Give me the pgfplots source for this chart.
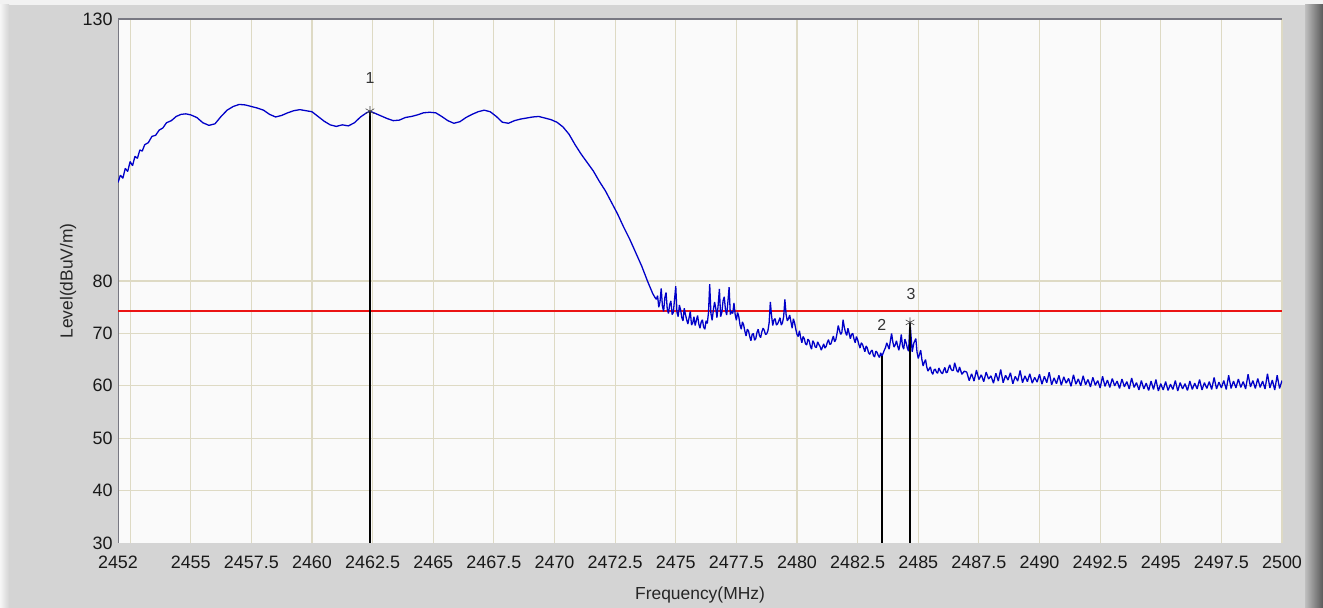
\documentclass[border=0pt]{standalone}
\usepackage{pgfplots}
\pgfplotsset{compat=1.18}
\usepackage{pgfplotstable}
\usepackage{fontspec}
\setmainfont{Liberation Sans}
\definecolor{bggray}{RGB}{212,212,212}
\definecolor{plotbg}{RGB}{250,250,250}
\definecolor{gridc}{RGB}{222,218,196}
\definecolor{trace}{RGB}{0,0,200}
\definecolor{limitred}{RGB}{235,20,20}
\definecolor{axisc}{RGB}{120,120,130}

\pgfplotstableread{
f L
2452.00 98.8
2452.10 100.2
2452.20 99.6
2452.30 101.5
2452.40 100.9
2452.50 102.8
2452.60 102.0
2452.70 103.8
2452.80 103.4
2452.90 105.0
2453.00 104.8
2453.10 106.0
2453.25 106.4
2453.40 107.6
2453.55 107.8
2453.70 108.8
2453.85 109.2
2454.00 110.2
2454.20 110.6
2454.40 111.4
2454.60 111.8
2454.80 111.9
2455.00 111.7
2455.25 111.2
2455.50 110.2
2455.75 109.7
2456.00 110.0
2456.25 111.4
2456.50 112.6
2456.75 113.3
2457.00 113.7
2457.25 113.6
2457.50 113.3
2457.75 113.0
2458.00 112.6
2458.25 111.8
2458.50 111.3
2458.75 111.6
2459.00 112.1
2459.25 112.5
2459.50 112.7
2459.75 112.5
2460.00 112.3
2460.25 111.4
2460.50 110.5
2460.75 109.8
2461.00 109.5
2461.25 109.8
2461.50 109.6
2461.75 110.2
2462.00 111.3
2462.25 112.1
2462.39 112.4
2462.60 112.0
2462.85 111.5
2463.10 111.0
2463.35 110.6
2463.60 110.7
2463.85 111.2
2464.10 111.4
2464.35 111.7
2464.60 112.1
2464.85 112.2
2465.10 112.1
2465.35 111.4
2465.60 110.6
2465.85 110.1
2466.10 110.4
2466.35 111.2
2466.60 111.8
2466.85 112.3
2467.10 112.6
2467.35 112.3
2467.60 111.4
2467.85 110.3
2468.10 110.1
2468.35 110.6
2468.60 110.9
2468.85 111.1
2469.10 111.3
2469.35 111.4
2469.60 111.1
2469.85 110.8
2470.10 110.3
2470.35 109.4
2470.60 108.0
2470.85 106.0
2471.10 104.2
2471.35 102.6
2471.60 101.0
2471.85 99.0
2472.10 97.2
2472.35 95.0
2472.60 92.8
2472.85 90.3
2473.10 88.0
2473.35 85.4
2473.60 82.8
2473.85 79.8
2474.05 77.6
2474.15 76.8
2474.20 76.5
2474.25 77.2
2474.30 75.0
2474.35 76.0
2474.40 78.6
2474.45 75.2
2474.50 74.2
2474.55 76.8
2474.60 77.8
2474.65 74.6
2474.70 73.8
2474.75 75.5
2474.80 76.2
2474.85 73.6
2474.90 74.0
2474.95 76.5
2475.00 79.0
2475.05 74.0
2475.10 73.2
2475.15 75.4
2475.20 74.5
2475.25 73.0
2475.30 72.4
2475.35 74.8
2475.40 73.6
2475.45 72.6
2475.50 71.8
2475.55 73.0
2475.60 74.2
2475.65 71.6
2475.70 72.0
2475.75 73.2
2475.80 71.5
2475.85 72.5
2475.90 73.4
2475.95 71.8
2476.00 71.0
2476.05 72.2
2476.10 72.6
2476.15 71.2
2476.20 70.8
2476.25 72.4
2476.30 71.9
2476.35 74.0
2476.40 79.4
2476.45 73.8
2476.50 72.5
2476.55 74.4
2476.60 76.0
2476.65 74.8
2476.70 73.0
2476.75 75.5
2476.80 78.5
2476.85 73.2
2476.90 74.0
2476.95 76.2
2477.00 77.0
2477.05 74.5
2477.10 73.5
2477.15 76.0
2477.20 78.8
2477.25 73.6
2477.30 74.2
2477.35 73.8
2477.40 75.8
2477.45 73.6
2477.50 72.5
2477.55 74.0
2477.60 73.2
2477.65 71.6
2477.70 70.8
2477.75 72.2
2477.80 71.6
2477.85 70.4
2477.90 69.5
2477.95 70.8
2478.00 70.5
2478.05 69.4
2478.10 68.6
2478.15 69.8
2478.20 70.0
2478.25 68.7
2478.30 69.0
2478.35 70.2
2478.40 70.8
2478.45 69.6
2478.50 69.2
2478.55 70.3
2478.60 71.0
2478.65 70.6
2478.70 69.8
2478.75 69.9
2478.80 70.5
2478.85 72.0
2478.90 76.0
2478.95 73.4
2479.00 71.5
2479.05 72.6
2479.10 72.8
2479.15 71.6
2479.20 71.8
2479.25 72.4
2479.30 73.0
2479.35 71.6
2479.40 72.0
2479.45 73.2
2479.50 76.5
2479.55 73.6
2479.60 72.4
2479.65 72.8
2479.70 73.5
2479.75 72.2
2479.80 71.0
2479.85 72.8
2479.90 72.0
2479.95 70.8
2480.00 69.8
2480.05 69.4
2480.10 70.5
2480.15 69.2
2480.20 68.2
2480.25 69.4
2480.30 69.0
2480.35 68.0
2480.40 67.8
2480.45 68.9
2480.50 68.6
2480.55 67.6
2480.60 67.0
2480.65 68.6
2480.70 68.2
2480.75 67.4
2480.80 67.3
2480.85 68.4
2480.90 67.9
2480.95 67.5
2481.00 66.8
2481.05 67.4
2481.10 68.0
2481.15 67.2
2481.20 67.5
2481.25 68.3
2481.30 68.8
2481.35 67.9
2481.40 68.0
2481.45 68.8
2481.50 69.5
2481.55 68.4
2481.60 68.8
2481.65 70.0
2481.70 71.5
2481.75 70.6
2481.80 69.8
2481.85 70.2
2481.90 72.6
2481.95 71.2
2482.00 70.2
2482.05 69.6
2482.10 71.0
2482.15 70.0
2482.20 69.0
2482.25 69.8
2482.30 70.0
2482.35 68.9
2482.40 68.2
2482.45 69.4
2482.50 68.8
2482.55 67.9
2482.60 67.2
2482.65 68.2
2482.70 67.9
2482.75 67.2
2482.80 66.5
2482.85 67.6
2482.90 67.2
2482.95 66.3
2483.00 66.0
2483.05 66.6
2483.10 66.8
2483.15 65.8
2483.20 65.5
2483.25 66.6
2483.30 66.4
2483.35 65.8
2483.40 65.4
2483.45 66.3
2483.50 65.6
2483.55 66.2
2483.60 66.8
2483.65 67.3
2483.70 68.2
2483.75 67.6
2483.80 67.0
2483.85 68.6
2483.90 70.0
2483.95 68.4
2484.00 67.4
2484.05 67.8
2484.10 68.6
2484.15 67.6
2484.20 66.8
2484.25 68.0
2484.30 69.8
2484.35 67.6
2484.40 67.0
2484.45 68.9
2484.50 68.2
2484.55 67.2
2484.60 66.6
2484.66 72.1
2484.75 66.5
2484.82 68.2
2484.90 69.0
2484.95 66.4
2485.00 65.2
2485.05 66.0
2485.10 66.8
2485.15 65.0
2485.20 63.8
2485.25 64.5
2485.30 65.0
2485.35 63.6
2485.40 62.8
2485.45 63.2
2485.50 63.6
2485.55 62.6
2485.60 62.2
2485.65 63.0
2485.70 63.2
2485.75 62.6
2485.80 62.4
2485.85 63.4
2485.90 62.9
2485.95 62.5
2486.00 62.3
2486.05 63.0
2486.10 63.5
2486.15 62.5
2486.20 62.6
2486.25 63.4
2486.30 64.0
2486.35 63.2
2486.40 62.9
2486.45 63.0
2486.50 64.4
2486.55 63.6
2486.60 62.8
2486.65 62.6
2486.70 63.6
2486.75 62.9
2486.80 62.2
2486.85 62.5
2486.90 62.8
2487.0 62.6
2487.1 61.0
2487.2 62.3
2487.3 60.9
2487.4 63.0
2487.5 61.2
2487.6 62.1
2487.7 60.8
2487.8 62.6
2487.9 61.3
2488.0 61.9
2488.1 60.5
2488.2 62.4
2488.3 60.9
2488.4 63.1
2488.5 60.6
2488.6 62.0
2488.7 61.1
2488.8 62.5
2488.9 60.4
2489.0 61.8
2489.1 60.9
2489.2 62.9
2489.3 60.6
2489.4 61.9
2489.5 60.8
2489.6 62.3
2489.7 60.5
2489.8 61.6
2489.9 60.7
2490.0 62.2
2490.1 60.3
2490.2 61.8
2490.3 60.6
2490.4 62.6
2490.5 60.2
2490.6 61.5
2490.7 60.4
2490.8 62.0
2490.9 60.1
2491.0 61.7
2491.1 60.5
2491.2 61.4
2491.3 59.9
2491.4 62.1
2491.5 60.3
2491.6 61.3
2491.7 60.0
2491.8 61.9
2491.9 60.2
2492.0 61.2
2492.1 59.8
2492.2 61.6
2492.3 60.1
2492.4 61.0
2492.5 59.6
2492.6 61.8
2492.7 59.9
2492.8 61.1
2492.9 59.7
2493.0 61.4
2493.1 60.0
2493.2 60.9
2493.3 59.5
2493.4 61.3
2493.5 59.8
2493.6 60.8
2493.7 59.4
2493.8 61.5
2493.9 59.7
2494.0 60.6
2494.1 59.2
2494.2 61.0
2494.3 59.4
2494.4 60.5
2494.5 59.1
2494.6 60.9
2494.7 59.3
2494.8 61.2
2494.9 59.0
2495.0 60.4
2495.1 59.2
2495.2 60.8
2495.3 59.1
2495.4 60.3
2495.5 59.3
2495.6 61.0
2495.7 59.0
2495.8 60.6
2495.9 59.4
2496.0 60.4
2496.1 59.1
2496.2 60.9
2496.3 59.3
2496.4 60.5
2496.5 59.4
2496.6 61.2
2496.7 59.2
2496.8 60.6
2496.9 59.5
2497.0 60.8
2497.1 59.3
2497.2 61.6
2497.3 59.4
2497.4 60.7
2497.5 59.6
2497.6 61.0
2497.7 59.3
2497.8 62.0
2497.9 59.5
2498.0 60.9
2498.1 59.6
2498.2 61.3
2498.3 59.7
2498.4 60.8
2498.5 59.4
2498.6 62.2
2498.7 59.8
2498.8 61.0
2498.9 59.5
2499.0 61.4
2499.1 59.7
2499.2 60.9
2499.3 59.4
2499.4 62.3
2499.5 59.6
2499.6 61.1
2499.7 59.2
2499.8 62.0
2499.9 59.5
2500.0 61.0
}\tracedata

\begin{document}
\begin{tikzpicture}
\useasboundingbox (0,0) rectangle (1323bp,608bp);
\fill[bggray] (0,0) rectangle (1323bp,608bp);
\fill[white!70!bggray] (0,603bp) rectangle (1323bp,608bp);
\shade[left color=white!80!bggray, right color=bggray] (0,0) rectangle (9bp,603bp);
\shade[left color=bggray!90!black, right color=black!65] (1305bp,0) rectangle (1323bp,603bp);
\begin{axis}[
  at={(118bp,65bp)}, anchor=south west,
  width=1164bp, height=524bp, scale only axis,
  xmin=2452, xmax=2500, ymin=30, ymax=130,
  axis background/.style={fill=plotbg},
  axis line style={draw=none},
  xtick={2452.5,2455,2457.5,2460,2462.5,2465,2467.5,2470,2472.5,2475,2477.5,2480,2482.5,2485,2487.5,2490,2492.5,2495,2497.5,2500},
  xticklabels={,2455,2457.5,2460,2462.5,2465,2467.5,2470,2472.5,2475,2477.5,2480,2482.5,2485,2487.5,2490,2492.5,2495,2497.5,2500},
  extra x ticks={2452}, extra x tick labels={2452},
  extra x tick style={grid=none},
  ytick={40,50,60,70,80},
  yticklabels={40,50,60,70,80},
  extra y ticks={30,130}, extra y tick labels={30,130},
  extra y tick style={grid=none},
  major tick length=0pt,
  grid=major,
  major grid style={gridc, line width=1.1pt},
  tick label style={font=\fontsize{18}{20}\selectfont, text=black!90},
  xticklabel style={anchor=center, yshift=-19bp},
  yticklabel style={anchor=east, xshift=-2bp},
  xlabel={Frequency(MHz)}, ylabel={Level(dBuV/m)},
  label style={font=\fontsize{17.5}{19}\selectfont, text=black!85},
  xlabel style={at={(axis description cs:0.5,0)}, anchor=center, yshift=-52bp},
  ylabel style={at={(axis description cs:0,0.5)}, anchor=center, yshift=50bp},
  clip=true,
]
\draw[axisc, line width=1.3pt] (rel axis cs:0,0) -- (rel axis cs:0,1) -- (rel axis cs:1,1);
\addplot[limitred, line width=2.3pt] coordinates {(2452,74.3) (2500,74.3)};
\addplot[trace, line width=1.3pt, line join=bevel] table[x=f, y=L] {\tracedata};
\addplot[black, line width=1.3pt] coordinates {(2462.39,30) (2462.39,112.4)};
\addplot[black, line width=1.3pt] coordinates {(2483.5,30) (2483.5,65.6)};
\addplot[black, line width=1.3pt] coordinates {(2484.66,30) (2484.66,72.1)};
\addplot[only marks, mark=asterisk, mark size=5bp, black!75, line width=0.6pt] coordinates {(2462.39,112.4) (2484.66,72.1)};
\node[font=\fontsize{16}{18}\selectfont, text=black!80] at (axis cs:2462.39,118.8) {1};
\node[font=\fontsize{16}{18}\selectfont, text=black!80] at (axis cs:2483.5,71.6) {2};
\node[font=\fontsize{16}{18}\selectfont, text=black!80] at (axis cs:2484.7,77.6) {3};
\end{axis}
\end{tikzpicture}
\end{document}
